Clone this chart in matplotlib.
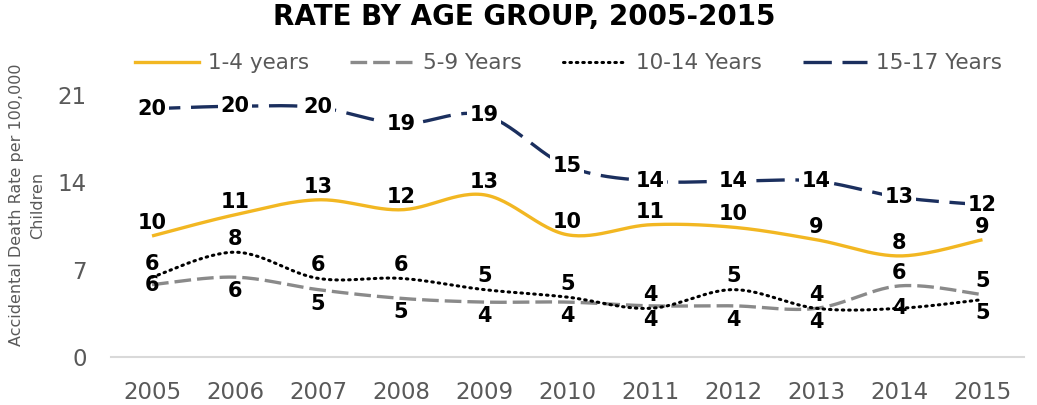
import numpy as np
import matplotlib
matplotlib.use("Agg")
import matplotlib.pyplot as plt
from matplotlib.lines import Line2D

# Accidental death rate per 100,000 children, by age group
years = [2005, 2006, 2007, 2008, 2009, 2010, 2011, 2012, 2013, 2014, 2015]
series_names = ["1-4 years", "5-9 Years", "10-14 Years", "15-17 Years"]
rate_1_4 = [9.7, 11.4, 12.6, 11.8, 13.0, 9.8, 10.6, 10.4, 9.4, 8.1, 9.4]
rate_5_9 = [5.8, 6.4, 5.4, 4.7, 4.4, 4.4, 4.1, 4.1, 3.9, 5.7, 5.0]
rate_10_14 = [6.4, 8.4, 6.3, 6.3, 5.4, 4.8, 3.9, 5.4, 3.9, 3.9, 4.6]
rate_15_17 = [19.9, 20.1, 20.0, 18.7, 19.4, 15.3, 14.1, 14.1, 14.1, 12.8, 12.2]
y_ticks = [0, 7, 14, 21]

# where each data label sits relative to its point
pos_1_4 = ["a"] * 11
pos_5_9 = ["c", "b", "b", "b", "b", "b", "b", "b", "b", "a", "a"]
pos_10_14 = ["a", "a", "a", "a", "a", "a", "a", "a", "a", "c", "b"]
pos_15_17 = ["c"] * 11

GOLD = "#F2B722"
GREY = "#8A8A8A"
NAVY = "#1B2F5E"
TEXT = "#595959"

styles = [
    dict(color=GOLD, lw=2.4, dashes=None),
    dict(color=GREY, lw=2.4, dashes=(5.0, 1.8)),
    dict(color="black", lw=2.2, dashes=(0.5, 1.6)),
    dict(color=NAVY, lw=2.4, dashes=(8.5, 3.2)),
]
offsets = {"a": 9.5, "b": -10.0, "c": 0.0}


def smooth(xs, ys, n=30):
    """Catmull-Rom style Bezier smoothing through every point."""
    p = np.column_stack([xs, ys]).astype(float)
    ext = np.vstack([p[0], p, p[-1]])
    out = []
    t = np.linspace(0, 1, n)[:, None]
    for i in range(len(p) - 1):
        p0, p1, p2, p3 = ext[i], ext[i + 1], ext[i + 2], ext[i + 3]
        b1 = p1 + (p2 - p0) / 6.0
        b2 = p2 - (p3 - p1) / 6.0
        seg = ((1 - t) ** 3) * p1 + 3 * ((1 - t) ** 2) * t * b1 \
            + 3 * (1 - t) * t ** 2 * b2 + t ** 3 * p2
        out.append(seg if i == 0 else seg[1:])
    out = np.vstack(out)
    return out[:, 0], out[:, 1]


fig = plt.figure(figsize=(10.37, 4.05), dpi=100)
ax = fig.add_axes([110.5 / 1037, 48 / 405, 913.5 / 1037, 262 / 405])

x = np.arange(len(years))
all_series = [rate_1_4, rate_5_9, rate_10_14, rate_15_17]
all_pos = [pos_1_4, pos_5_9, pos_10_14, pos_15_17]
handles = []
for k, (vals, pos, st) in enumerate(zip(all_series, all_pos, styles)):
    sx, sy = smooth(x, vals)
    line, = ax.plot(sx, sy, color=st["color"], lw=st["lw"], zorder=2 + k,
                    solid_capstyle="butt", clip_on=False)
    if st["dashes"] is not None:
        line.set_dashes(st["dashes"])
        if k == 2:
            line.set_dash_capstyle("round")
    handles.append(Line2D([], [], color=st["color"], lw=st["lw"],
                          dashes=st["dashes"] if st["dashes"] else (None, None),
                          dash_capstyle="round" if k == 2 else "butt"))
    for xi, v, p in zip(x, vals, pos):
        ax.annotate(f"{v:.0f}", (xi, v), xytext=(0, offsets[p]),
                    textcoords="offset points", ha="center", va="center",
                    fontsize=15, fontweight="heavy", color="black", zorder=10,
                    bbox=dict(boxstyle="square,pad=0.12", fc="white",
                              ec="none") if k == 3 else None,
                    annotation_clip=False)

ax.set_xlim(-0.5, len(years) - 0.5)
ax.set_ylim(0, 21)
ax.set_xticks(x)
ax.set_xticklabels([str(y) for y in years])
ax.set_yticks(y_ticks)
ax.tick_params(axis="both", length=0, labelsize=16.5, labelcolor=TEXT)
ax.tick_params(axis="y", pad=17)
ax.tick_params(axis="x", pad=17)
for side in ["top", "right", "left"]:
    ax.spines[side].set_visible(False)
ax.spines["bottom"].set_color("#D9D9D9")
ax.spines["bottom"].set_linewidth(1.5)
ax.patch.set_alpha(0)

ax.set_ylabel("Accidental Death Rate per 100,000\nChildren", fontsize=11.5,
              color=TEXT, linespacing=1.5)
ax.yaxis.set_label_coords(-0.072, 0.58)

fig.text(0.506, 0.958, "RATE BY AGE GROUP, 2005-2015", ha="center",
         va="center", fontsize=20, fontweight="bold", color="black")

leg = fig.legend(handles, series_names, loc="center",
                 bbox_to_anchor=(0.548, 0.844), ncol=4, frameon=False,
                 fontsize=15.5, handlelength=3.0, handletextpad=0.4,
                 columnspacing=1.9)
for t in leg.get_texts():
    t.set_color(TEXT)

fig.savefig("out.png", dpi=100)
